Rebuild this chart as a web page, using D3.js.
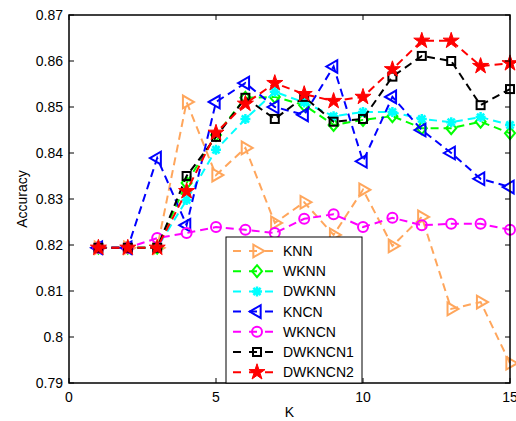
<!DOCTYPE html>
<html>
<head>
<meta charset="utf-8">
<script src="https://cdn.jsdelivr.net/npm/d3@7"></script>
<style>
  html, body { margin: 0; padding: 0; background: #fff; }
  svg text { font-family: "Liberation Sans", Arial, sans-serif; }
</style>
</head>
<body>
<div id="chart"></div>
<script>
// K values
const kValues = [1, 2, 3, 4, 5, 6, 7, 8, 9, 10, 11, 12, 13, 14, 15];

// accuracy per method
const knn     = [0.8194, 0.8194, 0.8194, 0.8511, 0.8352, 0.8411, 0.8248, 0.8293, 0.8222, 0.8320, 0.8198, 0.8261, 0.8061, 0.8076, 0.7943];
const wknn    = [0.8194, 0.8194, 0.8194, 0.8335, 0.8439, 0.8520, 0.8522, 0.8504, 0.8461, 0.8472, 0.8480, 0.8454, 0.8454, 0.8468, 0.8443];
const dwknn   = [0.8194, 0.8194, 0.8194, 0.8298, 0.8407, 0.8474, 0.8533, 0.8510, 0.8480, 0.8489, 0.8489, 0.8474, 0.8467, 0.8478, 0.8461];
const kncn    = [0.8194, 0.8194, 0.8389, 0.8243, 0.8511, 0.8552, 0.8500, 0.8483, 0.8588, 0.8382, 0.8522, 0.8450, 0.8400, 0.8344, 0.8326];
const wkncn   = [0.8194, 0.8194, 0.8215, 0.8226, 0.8239, 0.8233, 0.8226, 0.8257, 0.8267, 0.8239, 0.8259, 0.8243, 0.8246, 0.8246, 0.8233];
const dwkncn1 = [0.8194, 0.8194, 0.8194, 0.8350, 0.8435, 0.8520, 0.8474, 0.8522, 0.8468, 0.8474, 0.8566, 0.8611, 0.8600, 0.8504, 0.8539];
const dwkncn2 = [0.8194, 0.8194, 0.8194, 0.8317, 0.8444, 0.8507, 0.8552, 0.8528, 0.8513, 0.8522, 0.8582, 0.8644, 0.8644, 0.8589, 0.8595];

const seriesNames = ['KNN', 'WKNN', 'DWKNN', 'KNCN', 'WKNCN', 'DWKNCN1', 'DWKNCN2'];
const seriesValues = [knn, wknn, dwknn, kncn, wkncn, dwkncn1, dwkncn2];

const xTicks = [0, 5, 10, 15];
const yTicks = [0.79, 0.80, 0.81, 0.82, 0.83, 0.84, 0.85, 0.86, 0.87];

const styles = [
    {color: '#ffa65c', marker: 'triRight'},
    {color: '#00ff00', marker: 'diamond'},
    {color: '#00ffff', marker: 'asterisk'},
    {color: '#0000ff', marker: 'triLeft'},
    {color: '#ff00ff', marker: 'circle'},
    {color: '#000000', marker: 'square'},
    {color: '#ff0000', marker: 'star'}
];

const W = 516, H = 421;
const margin = {left: 69, right: 6, top: 15, bottom: 38};

const svg = d3.select('#chart').append('svg')
    .attr('width', W)
    .attr('height', H)
    .attr('viewBox', `0 0 ${W} ${H}`);

const x = d3.scaleLinear().domain([0, 15]).range([margin.left, W - margin.right]);
const y = d3.scaleLinear().domain([0.79, 0.87]).range([H - margin.bottom, margin.top]);

// marker drawing
function drawMarker(g, type, color, cx, cy) {
    const m = g.append('g').attr('transform', `translate(${cx},${cy})`);
    if (type === 'triRight' || type === 'triLeft') {
        m.append('path')
            .attr('d', d3.symbol(d3.symbolTriangle, 70)())
            .attr('transform', `rotate(${type === 'triRight' ? 90 : -90})`)
            .attr('fill', 'none').attr('stroke', color).attr('stroke-width', 2);
    } else if (type === 'diamond') {
        m.append('path').attr('d', 'M0,-6L5,0L0,6L-5,0Z')
            .attr('fill', 'none').attr('stroke', color).attr('stroke-width', 2);
    } else if (type === 'circle') {
        m.append('circle').attr('r', 5)
            .attr('fill', 'none').attr('stroke', color).attr('stroke-width', 2);
    } else if (type === 'square') {
        m.append('rect').attr('x', -4).attr('y', -4).attr('width', 8).attr('height', 8)
            .attr('fill', 'none').attr('stroke', color).attr('stroke-width', 2);
    } else if (type === 'asterisk') {
        const r = 5, d = 3.6;
        m.append('path')
            .attr('d', `M${-r},0L${r},0M0,${-r}L0,${r}M${-d},${-d}L${d},${d}M${-d},${d}L${d},${-d}`)
            .attr('stroke', color).attr('stroke-width', 2.5).attr('fill', 'none');
    } else if (type === 'star') {
        m.append('path').attr('d', d3.symbol(d3.symbolStar, 80)())
            .attr('fill', color).attr('stroke', color).attr('stroke-width', 1);
    }
}

const plot = svg.append('g');

// lines
const line = d3.line()
    .x((d, i) => x(kValues[i]))
    .y(d => y(d));

seriesValues.forEach((vals, si) => {
    const st = styles[si];
    const g = plot.append('g');
    g.append('path')
        .datum(vals)
        .attr('d', line)
        .attr('fill', 'none')
        .attr('stroke', st.color)
        .attr('stroke-width', 2)
        .attr('stroke-dasharray', '8,5');
    vals.forEach((v, i) => drawMarker(g, st.marker, st.color, x(kValues[i]), y(v)));
});

// box and ticks
const x0 = x(0), x1 = x(15), y0 = y(0.79), y1 = y(0.87);
const axisG = svg.append('g');
axisG.append('rect')
    .attr('x', x0).attr('y', y1)
    .attr('width', x1 - x0).attr('height', y0 - y1)
    .attr('fill', 'none').attr('stroke', '#000').attr('stroke-width', 1.5);

xTicks.forEach(t => {
    axisG.append('line').attr('x1', x(t)).attr('x2', x(t)).attr('y1', y0).attr('y2', y0 - 5).attr('stroke', '#000');
    axisG.append('line').attr('x1', x(t)).attr('x2', x(t)).attr('y1', y1).attr('y2', y1 + 5).attr('stroke', '#000');
    axisG.append('text').attr('x', x(t)).attr('y', y0 + 19)
        .attr('text-anchor', 'middle').attr('font-size', 14).text(t);
});

const yFmt = v => String(+v.toFixed(2));
yTicks.forEach(t => {
    axisG.append('line').attr('x1', x0).attr('x2', x0 + 5).attr('y1', y(t)).attr('y2', y(t)).attr('stroke', '#000');
    axisG.append('line').attr('x1', x1).attr('x2', x1 - 5).attr('y1', y(t)).attr('y2', y(t)).attr('stroke', '#000');
    axisG.append('text').attr('x', x0 - 6).attr('y', y(t) + 5)
        .attr('text-anchor', 'end').attr('font-size', 14).text(yFmt(t));
});

svg.append('text')
    .attr('x', (x0 + x1) / 2).attr('y', y0 + 34)
    .attr('text-anchor', 'middle').attr('font-size', 14).text('K');

svg.append('text')
    .attr('transform', `translate(27,${(y0 + y1) / 2}) rotate(-90)`)
    .attr('text-anchor', 'middle').attr('font-size', 14).text('Accuracy');

// legend
const lg = svg.append('g');
const lgX = 226, lgY = 237, lgW = 136, lgH = y0 - lgY;
lg.append('rect')
    .attr('x', lgX).attr('y', lgY).attr('width', lgW).attr('height', lgH)
    .attr('fill', '#fff').attr('stroke', '#000').attr('stroke-width', 1);

seriesNames.forEach((name, i) => {
    const cy = lgY + 14 + i * 20.2;
    const st = styles[i];
    lg.append('line')
        .attr('x1', 233).attr('x2', 281).attr('y1', cy).attr('y2', cy)
        .attr('stroke', st.color).attr('stroke-width', 2)
        .attr('stroke-dasharray', '8,8').attr('stroke-dashoffset', 0);
    drawMarker(lg, st.marker, st.color, 257, cy);
    lg.append('text').attr('x', 283).attr('y', cy + 5)
        .attr('font-size', 14).text(name);
});
</script>
</body>
</html>
